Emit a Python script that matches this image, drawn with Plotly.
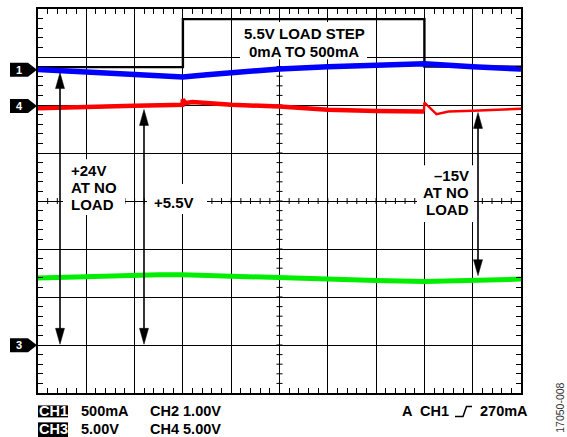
import numpy as np
import plotly.graph_objects as go

# ---- data: screen divisions (x: 0..10 div, y: -4..4 div from screen centre) ----
# CH1: 5.5V load current step 0mA -> 500mA (black)
ch1_x = [0, 3.0, 3.0, 8.0, 8.0, 10]
ch1_y = [2.79, 2.79, 3.79, 3.79, 2.80, 2.80]

# +5.5V output (blue)
blue_x = [0, 1, 2, 3, 3.5, 4, 5, 6, 7, 8, 9, 10]
blue_y = [2.742, 2.680, 2.638, 2.584, 2.632, 2.680, 2.750, 2.798, 2.833, 2.860, 2.798, 2.750]

# +24V output (red)
red_x = [0, 1, 2, 2.8, 2.99, 3.0, 3.05, 3.2, 4, 5, 6, 7, 7.99, 8.0, 8.25, 8.5, 9, 10]
red_y = [1.934, 1.948, 1.983, 2.000, 2.004, 2.114, 2.041, 2.062, 2.004, 1.969, 1.901,
         1.876, 1.865, 2.052, 1.809, 1.865, 1.880, 1.921]

# -15V output (green)
green_x = [0, 1, 2, 2.5, 3, 4, 5, 6, 7, 8, 9, 10]
green_y = [-1.602, -1.569, -1.548, -1.534, -1.534, -1.569, -1.590, -1.631, -1.658,
           -1.679, -1.658, -1.627]

# channel reference markers (div)
marker_labels = ["1", "4", "3"]
marker_levels = [2.736, 1.979, -3.005]

bottom_row1 = ["500mA", "CH2 1.00V"]
bottom_row2 = ["5.00V", "CH4 5.00V"]

# ---- geometry helpers (pixel -> paper) ----
W, H = 567, 437
L, R, T, B = 38, 521, 7, 393
def PX(x):
    return (x - L) / (R - L)
def PY(y):
    return (B - y) / (B - T)

FONT = "Liberation Sans, Arial, Helvetica, sans-serif"

fig = go.Figure()

# centre-line tick marks (graticule)
hx, hy = 3 / 48.3, 3 / 48.25
cx, cy = [], []
for t in np.round(np.arange(0.2, 10.0, 0.2), 3):
    cx += [t, t, None]; cy += [-hy, hy, None]
for t in np.round(np.arange(-3.8, 4.0, 0.2), 3):
    cx += [5 - hx, 5 + hx, None]; cy += [t, t, None]
fig.add_trace(go.Scatter(x=cx, y=cy, mode="lines", line=dict(color="black", width=1),
                         hoverinfo="skip", showlegend=False))

fig.add_trace(go.Scatter(x=ch1_x, y=ch1_y, mode="lines", line=dict(color="black", width=2.4),
                         showlegend=False))
split = red_x.index(7.99)
fig.add_trace(go.Scatter(x=red_x[:split + 1], y=red_y[:split + 1], mode="lines",
                         line=dict(color="#ff0000", width=4.5), showlegend=False))
fig.add_trace(go.Scatter(x=red_x[split:], y=red_y[split:], mode="lines",
                         line=dict(color="#ff0000", width=2.4), showlegend=False))
fig.add_trace(go.Scatter(x=green_x, y=green_y, mode="lines", line=dict(color="#00ee00", width=5),
                         showlegend=False))
fig.add_trace(go.Scatter(x=blue_x, y=blue_y, mode="lines", line=dict(color="#0000ff", width=5.5),
                         showlegend=False))

shapes = []
# white boxes behind labels
for (x0, y0, x1, y1) in [(240, 20, 367, 57.5), (63, 158, 125, 214), (147, 183, 207, 213),
                         (417, 164, 474, 221)]:
    shapes.append(dict(type="rect", xref="paper", yref="paper", x0=PX(x0), x1=PX(x1),
                       y0=PY(y1), y1=PY(y0), fillcolor="white", line=dict(width=0), layer="above"))

# double-headed arrows
def arrow(x, ytop, ybot, hl=16, hw=4.5):
    out = [dict(type="line", xref="paper", yref="paper", x0=PX(x), x1=PX(x),
                y0=PY(ytop + hl - 2), y1=PY(ybot - hl + 2), line=dict(color="black", width=1.6),
                layer="above")]
    for tip, base in [(ytop, ytop + hl), (ybot, ybot - hl)]:
        path = "M {a},{b} L {c},{d} L {e},{d} Z".format(
            a=PX(x), b=PY(tip), c=PX(x - hw), d=PY(base), e=PX(x + hw))
        out.append(dict(type="path", xref="paper", yref="paper", path=path,
                        fillcolor="black", line=dict(color="black", width=0.5), layer="above"))
    return out
shapes += arrow(60, 71, 344)
shapes += arrow(144, 108, 344)
shapes += arrow(478, 111, 275)

annotations = []
# channel markers
for lab, lev in zip(marker_labels, marker_levels):
    yc = 200 - lev * 48.25
    x0, x1, x2, h = 10, 28, 37, 14
    path = "M {a},{t} L {b},{t} L {c},{m} L {b},{u} L {a},{u} Z".format(
        a=PX(x0), b=PX(x1), c=PX(x2), t=PY(yc - h / 2), m=PY(yc), u=PY(yc + h / 2))
    shapes.append(dict(type="path", xref="paper", yref="paper", path=path,
                       fillcolor="black", line=dict(width=0)))
    annotations.append(dict(xref="paper", yref="paper", x=PX(19), y=PY(yc), text="<b>%s</b>" % lab,
                            showarrow=False, font=dict(family=FONT, size=11, color="white"),
                            xanchor="center", yanchor="middle"))

def label(text, x, y, anchor="left", size=15, color="black", bold=True):
    t = "<b>%s</b>" % text if bold else text
    annotations.append(dict(xref="paper", yref="paper", x=PX(x), y=PY(y), text=t, showarrow=False,
                            font=dict(family=FONT, size=size, color=color),
                            xanchor=anchor, yanchor="middle"))

label("5.5V LOAD STEP", 304, 32, "center")
label("0mA TO 500mA", 304, 49.5, "center")
label("+24V", 69, 169.5)
label("AT NO", 69, 186.5)
label("LOAD", 69, 203.5)
label("+5.5V", 152, 202)
label("\u201315V", 471, 174.5, "right")
label("AT NO", 471, 191.5, "right")
label("LOAD", 471, 208.5, "right")

# bottom readouts
R1, R2 = 411.5, 429
shapes.append(dict(type="rect", xref="paper", yref="paper", x0=PX(38), x1=PX(68),
                   y0=PY(R1 + 6), y1=PY(R1 - 6), fillcolor="black", line=dict(width=0)))
shapes.append(dict(type="rect", xref="paper", yref="paper", x0=PX(38), x1=PX(68),
                   y0=PY(442), y1=PY(R2 - 6.5), fillcolor="black", line=dict(width=0)))
label("CH1", 53, R1, "center", size=14.5, color="white")
label("CH3", 53, R2, "center", size=14.5, color="white")
label(bottom_row1[0], 79, R1, size=14.5)
label(bottom_row1[1], 148, R1, size=14.5)
label(bottom_row2[0], 79, R2, size=14.5)
label(bottom_row2[1], 148, R2, size=14.5)
label("A", 400, R1, size=14.5)
label("CH1", 418, R1, size=14.5)
label("270mA", 530, R1, "right", size=14.5)
shapes.append(dict(type="path", xref="paper", yref="paper",
                   path="M {a},{b} L {c},{b} L {d},{e} L {f},{e}".format(
                       a=PX(455), b=PY(416.5), c=PX(463), d=PX(466.5), e=PY(406.5), f=PX(472)),
                   line=dict(color="black", width=1.5)))
annotations.append(dict(xref="paper", yref="paper", x=PX(560), y=PY(435), text="17050-008",
                        textangle=-90, showarrow=False, xanchor="center", yanchor="bottom",
                        font=dict(family=FONT, size=10.5, color="#333333")))

axis_common = dict(showgrid=True, gridcolor="black", gridwidth=1.4, zeroline=False,
                   showticklabels=False, ticks="", showline=True, linecolor="black",
                   linewidth=2.2, mirror="allticks", fixedrange=True,
                   minor=dict(ticks="inside", ticklen=5, tickwidth=1, tickcolor="black",
                              dtick=0.2, showgrid=False))

fig.update_layout(
    width=W, height=H, margin=dict(l=L, r=W - R, t=T, b=H - B, pad=0),
    paper_bgcolor="white", plot_bgcolor="white", showlegend=False,
    xaxis=dict(range=[0, 10], dtick=1, tick0=0, **axis_common),
    yaxis=dict(range=[-4, 4], dtick=1, tick0=0, **axis_common),
    shapes=shapes, annotations=annotations,
)

fig.write_html("out.html", config={"displayModeBar": False},
               post_script="document.body.style.margin='0';document.body.style.overflow='hidden';")
